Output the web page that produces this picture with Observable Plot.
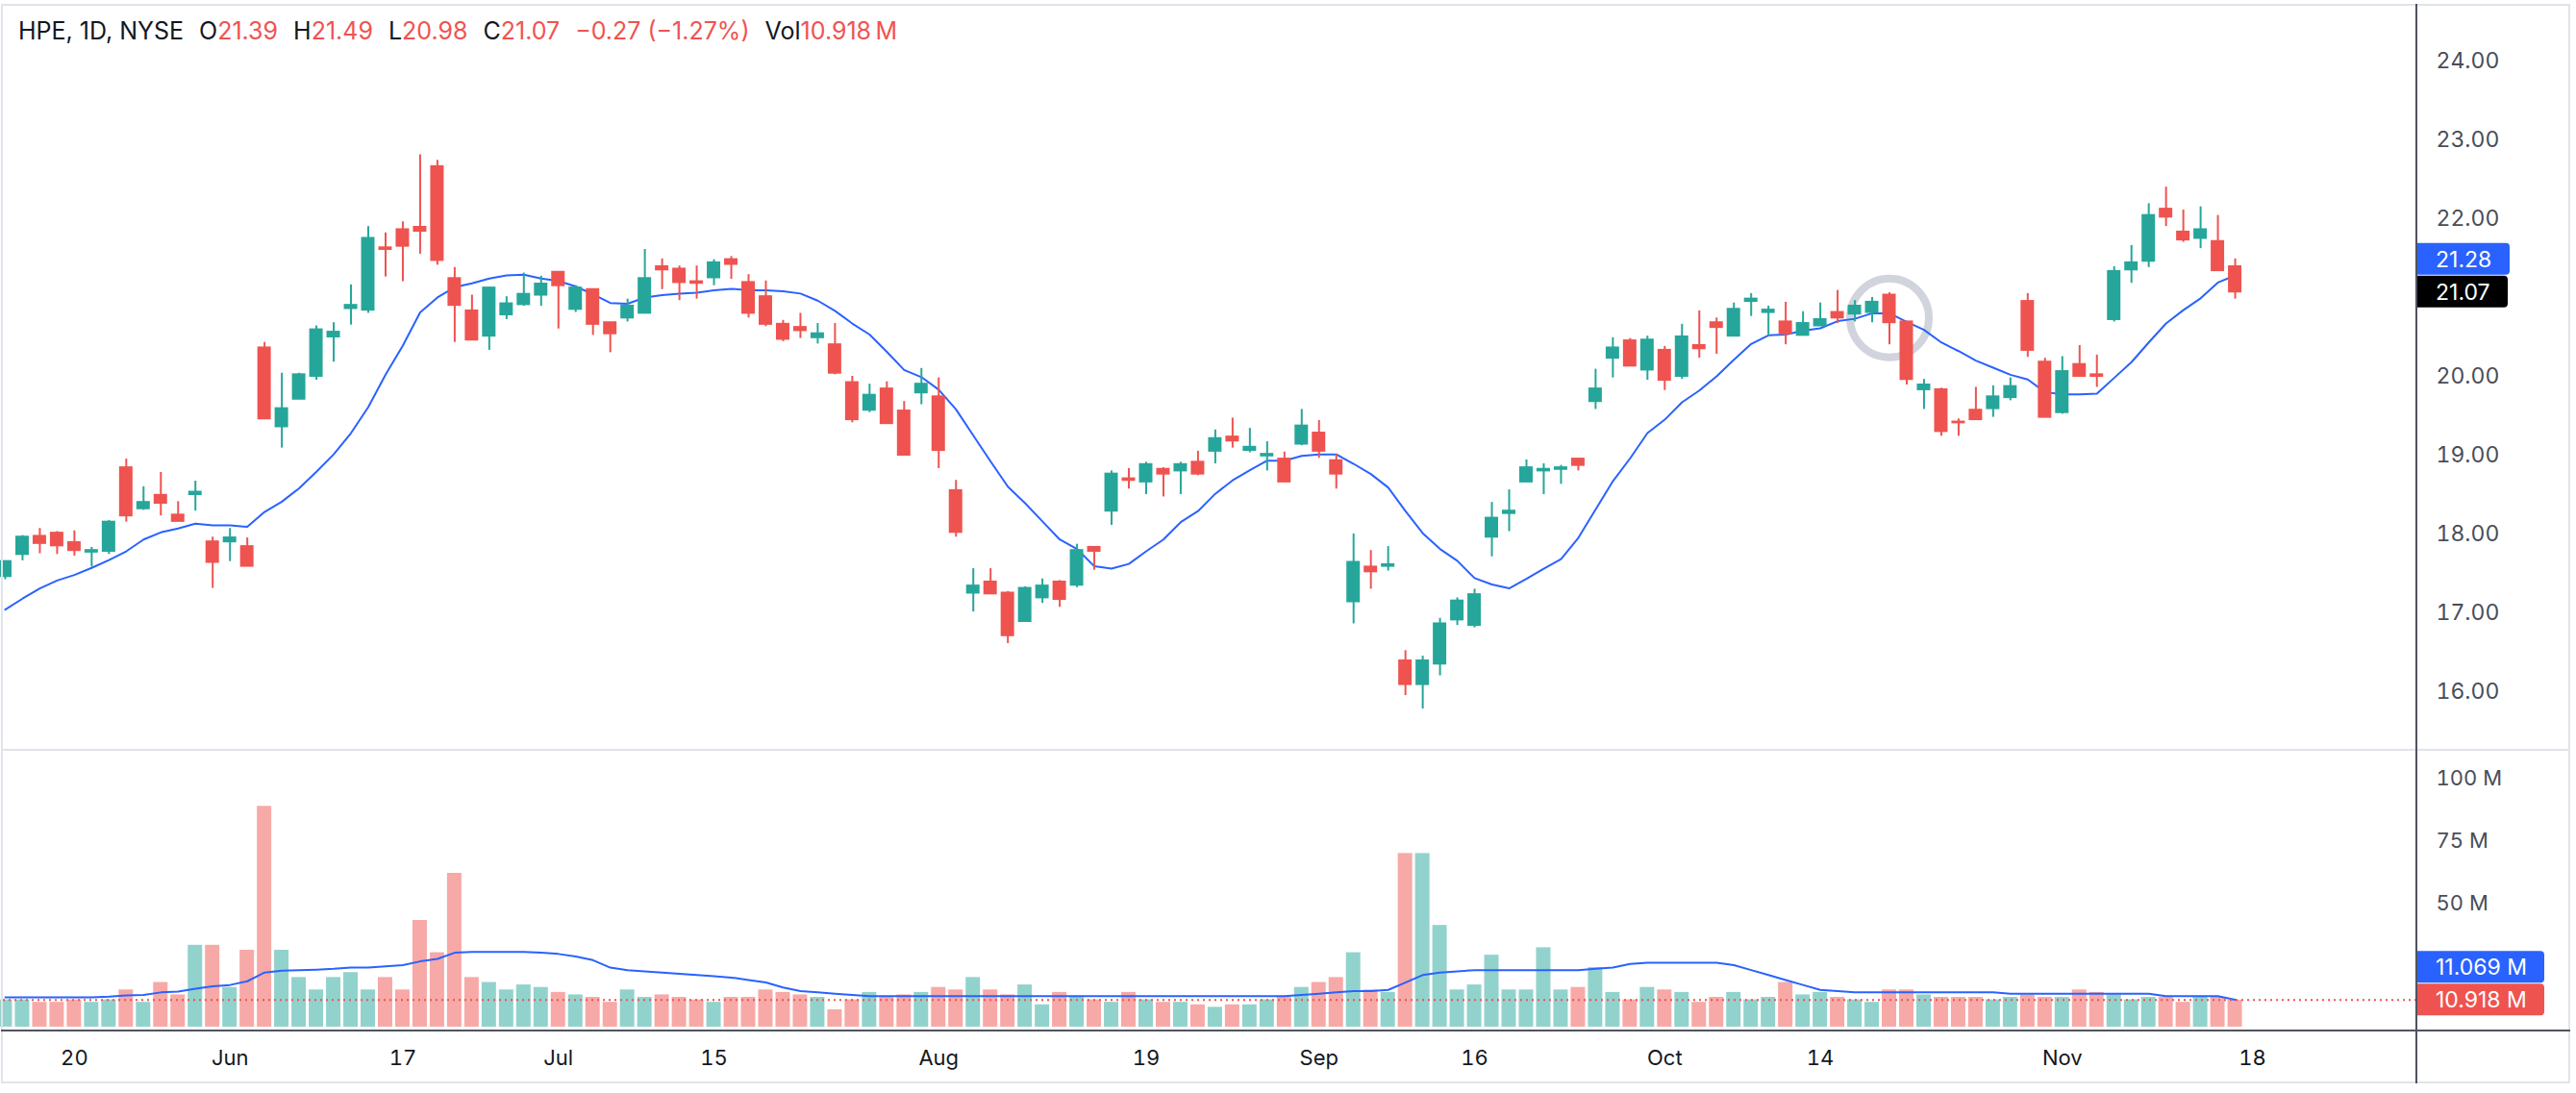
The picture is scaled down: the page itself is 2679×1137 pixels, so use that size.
<!DOCTYPE html>
<html><head><meta charset="utf-8">
<script src="https://cdn.jsdelivr.net/npm/d3@7"></script>
<script src="https://cdn.jsdelivr.net/npm/@observablehq/plot@0.6"></script>
<style>
body{margin:0;background:#fff;}
#chart{position:relative;width:2679px;height:1137px;overflow:hidden;background:#fff;font-family:Inter,"Noto Sans",sans-serif;}
#chart svg{position:absolute;left:0;}
.ln{position:absolute;z-index:5;}
.light{background:#e0e3eb;}
.dark{background:#50535e;}
#legend{position:absolute;left:19px;top:15px;font-size:25px;line-height:34px;color:#131722;white-space:nowrap;z-index:6;}
#legend .v{color:#ef5350;}
#legend .g{margin-left:16px;}
</style></head><body>
<div id="chart"></div>
<script>
// ---- data (HPE, 1D, NYSE) ----
const symbolInfo = ["HPE", "1D", "NYSE"];
const opens = [17.46,17.74,17.97,18.01,17.89,17.77,17.78,18.84,18.32,18.49,
18.24,18.50,17.90,17.90,17.84,20.36,19.36,19.71,20.00,20.50,
20.86,20.84,21.63,21.86,21.89,22.66,21.24,20.83,20.51,20.78,
20.91,21.03,21.32,20.85,21.10,20.68,20.74,20.80,21.39,21.36,
21.20,21.25,21.48,21.19,21.01,20.66,20.62,20.49,20.40,19.92,
19.57,19.84,19.56,19.79,19.74,18.55,17.25,17.39,17.25,16.89,
17.19,17.39,17.35,17.83,18.29,18.70,18.66,18.82,18.80,18.91,
19.05,19.23,19.06,18.99,18.95,19.14,19.28,18.93,17.14,17.58,
17.59,16.39,16.09,16.35,16.91,16.84,17.96,18.26,18.66,18.80,
18.82,18.95,19.68,20.23,20.45,20.08,20.33,20.00,20.39,20.68,
20.51,20.95,20.81,20.69,20.52,20.64,20.81,20.79,20.81,21.03,
20.69,19.83,19.83,19.42,19.57,19.59,19.73,20.95,20.18,19.54,
20.15,20.02,20.72,21.35,21.46,22.12,21.83,21.75,21.71,21.39];
const highs = [17.66,17.98,18.07,18.03,18.04,17.83,18.17,18.95,18.60,18.78,
18.41,18.67,17.96,18.07,17.95,20.43,20.04,20.04,20.64,20.68,
21.16,21.90,21.82,21.96,22.81,22.74,21.38,21.03,21.13,21.01,
21.31,21.27,21.32,21.15,21.10,20.68,20.98,21.61,21.49,21.40,
21.40,21.48,21.52,21.29,21.21,20.71,20.80,20.67,20.67,20.00,
19.90,19.93,19.68,20.10,19.98,18.68,17.56,17.56,17.27,17.33,
17.43,17.41,17.87,17.84,18.80,18.83,18.91,18.84,18.91,19.05,
19.32,19.47,19.34,19.17,19.04,19.58,19.44,19.01,18.00,17.79,
17.84,16.52,16.45,16.93,17.19,17.30,18.40,18.56,18.94,18.89,
18.87,18.95,20.09,20.49,20.48,20.51,20.38,20.66,20.83,20.74,
20.93,21.05,20.89,20.94,20.82,20.93,21.09,20.96,21.00,21.06,
20.69,19.96,19.85,19.46,19.86,19.88,19.98,21.05,20.23,20.25,
20.39,20.27,21.39,21.66,22.19,22.40,22.11,22.15,22.04,21.49];
const lows = [17.42,17.66,17.75,17.74,17.72,17.58,17.74,18.15,18.30,18.23,
18.16,18.29,17.31,17.65,17.59,19.45,19.09,19.71,19.95,20.18,
20.65,20.80,21.26,21.20,21.55,21.41,20.43,20.46,20.33,20.72,
20.89,20.89,20.60,20.81,20.52,20.30,20.69,20.80,21.10,20.96,
20.98,21.15,21.23,20.74,20.63,20.44,20.48,20.41,20.02,19.41,
19.54,19.40,18.99,19.64,18.83,17.96,17.01,17.24,16.61,16.89,
17.12,17.07,17.32,17.54,18.11,18.57,18.50,18.47,18.50,18.74,
18.89,19.09,19.03,18.80,18.66,19.12,18.96,18.57,16.86,17.30,
17.53,15.95,15.78,16.20,16.84,16.81,17.71,18.03,18.65,18.50,
18.63,18.80,19.58,19.98,20.13,19.95,19.82,19.96,20.23,20.28,
20.51,20.76,20.51,20.40,20.51,20.64,20.67,20.69,20.68,20.40,
19.89,19.58,19.24,19.24,19.45,19.48,19.69,20.24,19.48,19.52,
20.00,19.86,20.69,21.18,21.38,21.90,21.70,21.62,21.34,20.98];
const closes = [17.65,17.96,17.88,17.85,17.79,17.79,18.15,18.23,18.40,18.39,
18.16,18.53,17.64,17.95,17.59,19.46,19.59,20.02,20.59,20.56,
20.90,21.75,21.61,21.65,21.84,21.47,20.90,20.46,21.12,20.92,
21.04,21.17,21.15,21.12,20.66,20.54,20.89,21.24,21.35,21.19,
21.18,21.44,21.42,20.80,20.66,20.47,20.58,20.54,20.04,19.45,
19.76,19.40,19.00,19.90,19.06,18.02,17.34,17.24,16.71,17.31,
17.34,17.17,17.79,17.78,18.76,18.68,18.88,18.76,18.88,18.76,
19.21,19.18,19.10,19.01,18.66,19.37,19.05,18.76,17.64,17.52,
17.61,16.09,16.39,16.86,17.15,17.23,18.20,18.29,18.84,18.82,
18.84,18.87,19.84,20.36,20.13,20.46,19.95,20.50,20.35,20.62,
20.85,20.98,20.84,20.54,20.67,20.72,20.74,20.89,20.94,20.68,
19.96,19.89,19.30,19.41,19.45,19.74,19.87,20.33,19.48,20.06,
20.00,20.00,21.33,21.44,22.04,22.02,21.73,21.86,21.34,21.07];
const priceMA = [17.04,17.18,17.31,17.41,17.48,17.57,17.67,17.78,17.93,18.02,
18.07,18.13,18.11,18.11,18.09,18.28,18.41,18.58,18.79,19.01,
19.28,19.61,20.02,20.39,20.81,21.00,21.13,21.18,21.24,21.28,
21.29,21.24,21.21,21.14,21.04,20.93,20.92,21.00,21.03,21.05,
21.06,21.09,21.11,21.09,21.09,21.08,21.05,20.96,20.83,20.67,
20.53,20.31,20.08,19.99,19.83,19.58,19.25,18.92,18.60,18.39,
18.16,17.93,17.81,17.59,17.56,17.62,17.78,17.93,18.15,18.29,
18.51,18.68,18.81,18.93,18.93,18.99,19.01,19.01,18.89,18.76,
18.59,18.29,18.01,17.81,17.66,17.44,17.36,17.31,17.43,17.56,
17.68,17.95,18.31,18.67,18.96,19.28,19.45,19.67,19.82,20.00,
20.21,20.41,20.52,20.53,20.58,20.61,20.70,20.73,20.80,20.80,
20.69,20.59,20.43,20.32,20.20,20.11,20.02,19.96,19.80,19.77,
19.77,19.78,19.98,20.18,20.43,20.67,20.84,20.99,21.19,21.28];
const volumes = [11,11,10,10,11,10,11,15,10,18,
13,33,33,16,31,89,31,20,15,20,
22,15,20,15,43,30,62,20,18,15,
17,16,14,13,12,10,15,12,13,12,
11,10,12,12,15,14,13,12,7,11,
14,12,13,14,16,15,20,15,13,17,
9,14,12,11,10,14,11,10,10,9,
8,9,9,11,12,16,18,20,30,15,
14,70,70,41,15,17,29,15,15,32,
15,16,24,14,11,16,15,14,10,12,
14,11,12,18,13,14,12,11,10,15,
15,13,12,12,12,11,12,13,12,12,
15,14,13,11,12,12,10,12,12,10.918];
const volumeMA = [12,12,12,12,12,12,12.3,12.8,13,14,
14.3,15.5,16.5,17,18.5,22,22.8,23,23.2,23.5,
24,24,24.5,25,26.5,27.5,30,30.3,30.3,30.3,
30.3,30,29.5,28.5,27,24,23,22.5,22,21.5,
21,20.5,20,19,18,16,14.5,14,13.5,13,
12.5,12.5,12.5,12.5,12.5,12.5,12.5,12.5,12.5,12.5,
12.5,12.5,12.5,12.5,12.5,12.5,12.5,12.5,12.5,12.5,
12.5,12.5,12.5,12.5,12.5,13,13.5,14,14.5,14.5,
15,18,21,22,22.5,23,23,23,23,23,
23,23,23.5,24,25.5,26,26,26,26,26,
25,23,21,19,17,15,14.5,14,14,14,
14,14,14,14,14,14,13.5,13.5,13.5,13.5,
13.5,13.5,13.5,13.5,13.5,12.5,12.5,12.5,12.5,11.069];
const timeTickIndex = [4,13,23,32,41,54,66,76,85,96,105,119,130];
const timeTickLabels = ["20","Jun","17","Jul","15","Aug","19","Sep","16","Oct","14","Nov","18"];
const priceTicks = [16,17,18,19,20,22,23,24];
const volumeTicks = [50,75,100];
const highlightBar = [109];
const highlightPrice = [20.74];

// ---- styling ----
const UP = "#26a69a", DOWN = "#ef5350", UPV = "#92d2cc", DOWNV = "#f7a9a7", MA = "#2962ff";
const AXIS_TEXT = "#4a4d57";
const FONT = "Inter, 'Noto Sans', sans-serif";

const bars = closes.map((c, i) => ({i, o: opens[i], h: highs[i], l: lows[i], c, v: volumes[i], ma: priceMA[i], vma: volumeMA[i], up: c >= opens[i]}));
const last = bars[bars.length - 1];

const W = 2679, MR = 166, ML = 3;
const xScale = {type: "linear", domain: [-0.11, 139.51], axis: null, label: null};

function labelBoxes(items) {
  return (index, scales, values, dims) => {
    const g = d3.create("svg:g");
    const x0 = dims.width - dims.marginRight + 1;
    for (const it of items) {
      const cy = scales.y(it.value) + it.shift;
      g.append("path")
        .attr("d", `M${x0},${cy - 16.5}h${it.w - 4}a4,4 0 0 1 4,4v25a4,4 0 0 1 -4,4h${-(it.w - 4)}z`)
        .attr("fill", it.fill);
      g.append("text").attr("x", x0 + 19).attr("y", cy).attr("dy", "0.36em")
        .attr("text-anchor", "start")
        .attr("fill", "#fff").attr("font-size", 23).attr("font-family", FONT)
        .text(it.text);
    }
    return g.node();
  };
}

const chart = document.getElementById("chart");

const price = Plot.plot({
  width: W, height: 780, marginLeft: ML, marginRight: MR, marginTop: 5, marginBottom: 0,
  x: xScale,
  y: {domain: [15.256, 24.707], axis: null, label: null},
  color: {type: "identity"},
  style: {fontFamily: FONT, fontSize: "23px", color: AXIS_TEXT, background: "transparent", overflow: "visible"},
  marks: [
    Plot.axisY(priceTicks, {anchor: "right", label: null, tickSize: 0, tickPadding: 20, tickFormat: d => d.toFixed(2), fontSize: 23}),
    Plot.dot(highlightBar, {x: d => d, y: (d, i) => highlightPrice[i], r: 41, stroke: "#d1d4dc", strokeWidth: 8, fill: "none"}),
    Plot.line(bars, {x: "i", y: "ma", stroke: MA, strokeWidth: 2}),
    Plot.ruleX(bars, {x: "i", y1: "l", y2: "h", stroke: d => d.up ? UP : DOWN, strokeWidth: 2}),
    Plot.rect(bars, {x1: d => d.i - 0.5, x2: d => d.i + 0.5, y1: d => Math.min(d.o, d.c), y2: d => Math.max(d.o, d.c),
      insetLeft: 2, insetRight: 2, insetTop: -1, insetBottom: -1, fill: d => d.up ? UP : DOWN}),
    labelBoxes([
      {value: last.c, shift: -34, text: last.ma.toFixed(2), fill: MA, w: 96},
      {value: last.c, shift: 0, text: last.c.toFixed(2), fill: "#000", w: 94}
    ])
  ]
});
price.style.top = "0px";
chart.appendChild(price);

const volume = Plot.plot({
  width: W, height: 346, marginLeft: ML, marginRight: MR, marginTop: 0, marginBottom: 54,
  x: xScale,
  y: {domain: [-1.55, 111.6], axis: null, label: null},
  color: {type: "identity"},
  style: {fontFamily: FONT, fontSize: "22px", color: AXIS_TEXT, background: "transparent", overflow: "visible"},
  marks: [
    Plot.axisY(volumeTicks, {anchor: "right", label: null, tickSize: 0, tickPadding: 20, tickFormat: d => d + " M", fontSize: 22}),
    Plot.axisX(timeTickIndex, {anchor: "bottom", label: null, tickSize: 0, tickPadding: 20, fontSize: 22, fill: "#131722",
      tickFormat: d => timeTickLabels[timeTickIndex.indexOf(d)]}),
    Plot.rect(bars, {x1: d => d.i - 0.5, x2: d => d.i + 0.5, y1: 0, y2: "v", insetLeft: 1.5, insetRight: 1.5,
      fill: d => d.up ? UPV : DOWNV}),
    Plot.line(bars, {x: "i", y: "vma", stroke: MA, strokeWidth: 2}),
    Plot.ruleY([last.v], {stroke: DOWN, strokeWidth: 2, strokeDasharray: "2 4"}),
    labelBoxes([
      {value: last.v, shift: -34, text: last.vma.toFixed(3) + " M", fill: MA, w: 132},
      {value: last.v, shift: 0, text: last.v.toFixed(3) + " M", fill: DOWN, w: 132}
    ])
  ]
});
volume.style.top = "780px";
chart.appendChild(volume);

// legend
const legend = document.createElement("div");
legend.id = "legend";
const prev = closes[closes.length - 2];
const chg = last.c - prev;
const pct = chg / prev * 100;
legend.innerHTML = `${symbolInfo.join(", ")}` +
  `<span class="g">O</span><span class="v">${last.o.toFixed(2)}</span>` +
  `<span class="g">H</span><span class="v">${last.h.toFixed(2)}</span>` +
  `<span class="g">L</span><span class="v">${last.l.toFixed(2)}</span>` +
  `<span class="g">C</span><span class="v">${last.c.toFixed(2)}</span>` +
  `<span class="g v">\u2212${Math.abs(chg).toFixed(2)} (\u2212${Math.abs(pct).toFixed(2)}%)</span>` +
  `<span class="g">Vol</span><span class="v">${last.v.toFixed(3)}\u2009M</span>`;
chart.appendChild(legend);

// frame and separators
function line(cls, l, t, w, h) {
  const d = document.createElement("div");
  d.className = "ln " + cls;
  Object.assign(d.style, {left: l + "px", top: t + "px", width: w + "px", height: h + "px"});
  chart.appendChild(d);
}
line("light", 1, 4, 2672, 2);
line("light", 1, 4, 2, 1123);
line("light", 2671, 4, 2, 1123);
line("light", 1, 1125, 2672, 2);
line("light", 1, 779, 2672, 2);
line("dark", 1, 1071, 2672, 2);
line("dark", 2512, 4, 2, 1123);
</script>
</body></html>
